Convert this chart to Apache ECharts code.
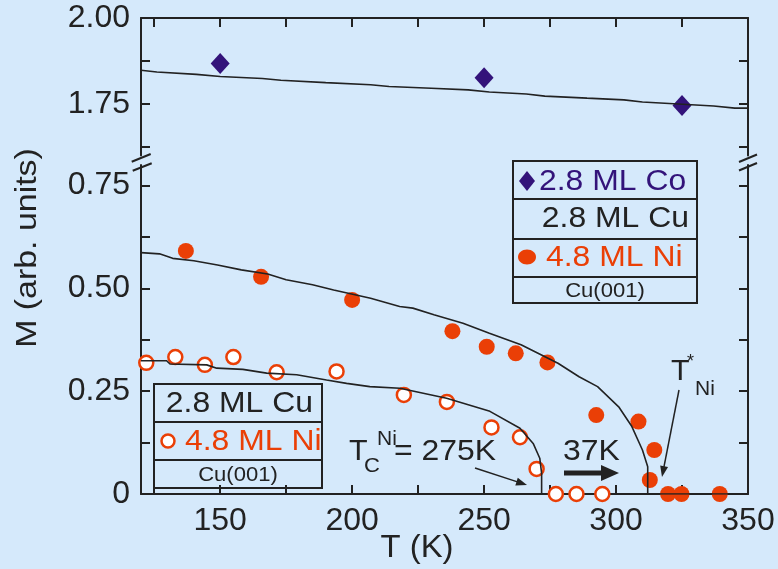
<!DOCTYPE html>
<html><head><meta charset="utf-8">
<script src="https://cdn.jsdelivr.net/npm/echarts@6/dist/echarts.min.js"></script>
<style>html,body{margin:0;padding:0;background:#d5e9fb}#c{width:778px;height:569px}</style>
</head><body><div id="c"></div><script>
// ---- data ----
const coLineT = [120,126,141,150,166,173,190,207,214,230,244,252,266,273,289,303,310,337,345,350];
const coLineM = [1.848,1.843,1.836,1.830,1.824,1.819,1.812,1.806,1.801,1.796,1.791,1.785,1.779,1.773,1.767,1.762,1.756,1.744,1.738,1.738];
const coPtsT = [150,250,325];
const coPtsM = [1.868,1.826,1.746];
const triLineT = [120,127,132,140,149,158,168,175,185,193,207,218,223,231,242,252,264,278,286,293,301,306,310,312,312,350];
const triLineM = [0.587,0.584,0.573,0.567,0.557,0.545,0.535,0.521,0.509,0.496,0.476,0.456,0.452,0.436,0.415,0.391,0.363,0.318,0.285,0.261,0.212,0.164,0.107,0.066,0,0];
const triPtsT = [137,165.5,200,238,251,262,274,292.5,308.5,314.5,312.8,319.7,324.8,339.3];
const triPtsM = [0.591,0.528,0.472,0.396,0.358,0.342,0.320,0.192,0.176,0.107,0.034,0,0,0];
const biLineT = [120,129.7,131,144.9,148.7,158.6,167.6,179,190.3,197.9,206.7,218.1,235.8,252.2,263.6,268.6,271.1,271.8,271.8];
const biLineM = [0.324,0.324,0.316,0.314,0.306,0.303,0.294,0.290,0.277,0.269,0.261,0.257,0.233,0.201,0.160,0.123,0.087,0.05,0];
const biPtsT = [122,133,144.2,155,171.4,194.1,219.6,235.9,252.8,263.6,269.9,277.2,285,294.8];
const biPtsM = [0.319,0.333,0.314,0.333,0.296,0.298,0.241,0.224,0.162,0.138,0.061,0,0,0];
const xTicks = [125,150,175,200,225,250,275,300,325,350];
const xLabels = [150,200,250,300,350];
const yTopTicks = [1.625,1.75,1.875,2.0];
const yTopLabels = [1.75,2.0];
const yBotTicks = [0.125,0.25,0.375,0.5,0.625,0.75];
const yBotLabels = [0,0.25,0.5,0.75];

// ---- style ----
const FONT = '"Liberation Sans", Arial, Helvetica, sans-serif';
const INK = '#222';
const ORANGE = '#ea3f06';
const PURPLE = '#33137a';
const BG = '#d5e9fb';

const zip = (a,b) => a.map((v,i)=>[v,b[i]]);
const axLine = {show:true, lineStyle:{color:INK, width:2}};
const tick = vals => ({show:true, inside:true, length:9, customValues: vals, lineStyle:{color:INK, width:2}});
const lab = (vals, fmt) => ({show:true, customValues: vals, fontSize:32, fontFamily:FONT, color:INK, margin:11, formatter: fmt});

function txt(x,y,s,size,color,align,sx){
  return {type:'text', x:x, y:y, scaleX: sx||1, z:20,
    style:{text:s, font: size+'px '+FONT, fill:color, align:align||'left', verticalAlign:'middle'}};
}
function ln(x1,y1,x2,y2,w,c){ return {type:'line', z:20, shape:{x1,y1,x2,y2}, style:{stroke:c||INK, lineWidth:w||2}}; }
function arrow(x1,y1,x2,y2,w,hl,hw){
  const dx=x2-x1, dy=y2-y1, L=Math.hypot(dx,dy), ux=dx/L, uy=dy/L;
  const bx=x2-ux*hl, by=y2-uy*hl, px=-uy*hw, py=ux*hw;
  return [ln(x1,y1,bx+ux*1,by+uy*1,w),
    {type:'polygon', z:20, shape:{points:[[x2,y2],[bx+px,by+py],[bx-px,by-py]]}, style:{fill:INK}}];
}

const graphics = [
  // axis break marks
  ln(131.7,161.7,150.7,154,2), ln(132.7,170.7,151.7,163.3,2),
  ln(739,162,757,154.5,2), ln(739,170.5,757,163,2),
  // y title
  {type:'text', x:28, y:248, rotation:Math.PI/2, scaleX:1.13, z:20,
   style:{text:'M (arb. units)', font:'30px '+FONT, fill:INK, align:'center', verticalAlign:'middle'}},
  txt(417,548,'T (K)',31,INK,'center',1.06),
  // upper legend box
  {type:'rect', z:15, shape:{x:513,y:161,width:184,height:142}, style:{fill:'none', stroke:INK, lineWidth:2}},
  ln(513,199,697,199,2), ln(513,239,697,239,2), ln(513,277,697,277,2),
  {type:'polygon', z:20, shape:{points:[[527,171],[535,181],[527,191],[519,181]]}, style:{fill:PURPLE}},
  txt(539,182,'2.8 ML Co',29,PURPLE,'left',1.1),
  txt(689,219,'2.8 ML Cu',29,INK,'right',1.1),
  {type:'ellipse', z:20, shape:{cx:527,cy:257,rx:9,ry:7.5}, style:{fill:ORANGE}},
  txt(546,258,'4.8 ML Ni',29,ORANGE,'left',1.1),
  txt(605,291,'Cu(001)',21,INK,'center',1.05),
  // lower legend box
  {type:'rect', z:15, shape:{x:154,y:384,width:168,height:104}, style:{fill:'none', stroke:INK, lineWidth:2}},
  ln(154,422,322,422,2), ln(154,460,322,460,2),
  txt(313,404,'2.8 ML Cu',29,INK,'right',1.1),
  {type:'circle', z:20, shape:{cx:168,cy:441,r:6.5}, style:{fill:'#fff', stroke:ORANGE, lineWidth:2.5}},
  txt(185,442,'4.8 ML Ni',29,ORANGE,'left',1.1),
  txt(238,475,'Cu(001)',21,INK,'center',1.05),
  // annotations
  txt(349,452,'T',29,INK,'left',1.05),
  txt(377,439,'Ni',20,INK,'left',1.05),
  txt(364,466,'C',21,INK,'left',1.05),
  txt(394,452,'= 275K',29,INK,'left',1.1),
  txt(563,452,'37K',29,INK,'left',1.1),
  txt(671,372,'T',29,INK,'left',1.05),
  txt(687,362,'*',18,INK,'left'),
  txt(695,389,'Ni',20,INK,'left',1.05),
  ...arrow(475,468,527,485,1.5,11,4),
  ...arrow(679,390,662,477,1.5,11,4),
  ...arrow(564,473,619,473,5,18,8)
];

const chart = echarts.init(document.getElementById('c'), null, {renderer:'canvas'});
chart.setOption({
  backgroundColor: BG,
  animation: false,
  textStyle:{fontFamily:FONT},
  grid: [
    {left:141, right:30, top:18, height:137.6},
    {left:141, right:30, top:165, height:329}
  ],
  xAxis: [
    {type:'value', gridIndex:0, position:'top', min:120, max:350, axisLine:axLine, axisTick:tick(xTicks), axisLabel:{show:false}, splitLine:{show:false}},
    {type:'value', gridIndex:1, position:'bottom', min:120, max:350, axisLine:axLine, axisTick:tick(xTicks),
     axisLabel:lab(xLabels, v=>String(v)), splitLine:{show:false}}
  ],
  yAxis: [
    {type:'value', gridIndex:0, position:'left', min:1.6, max:2.0, axisLine:axLine, axisTick:tick(yTopTicks),
     axisLabel:lab(yTopLabels, v=>v.toFixed(2)), splitLine:{show:false}},
    {type:'value', gridIndex:0, position:'right', min:1.6, max:2.0, axisLine:axLine, axisTick:tick(yTopTicks), axisLabel:{show:false}, splitLine:{show:false}},
    {type:'value', gridIndex:1, position:'left', min:0, max:0.8, axisLine:axLine, axisTick:tick(yBotTicks),
     axisLabel:lab(yBotLabels, v=>v===0?'0':v.toFixed(2)), splitLine:{show:false}},
    {type:'value', gridIndex:1, position:'right', min:0, max:0.8, axisLine:axLine, axisTick:tick(yBotTicks), axisLabel:{show:false}, splitLine:{show:false}}
  ],
  series: [
    {type:'scatter', xAxisIndex:0, yAxisIndex:0, data:zip(coPtsT,coPtsM), symbol:'diamond', symbolSize:[19,21], itemStyle:{color:PURPLE, opacity:1}, z:2},
    {type:'line', xAxisIndex:0, yAxisIndex:0, data:zip(coLineT,coLineM), showSymbol:false, lineStyle:{color:INK,width:1.6}, z:3},
    {type:'scatter', xAxisIndex:1, yAxisIndex:2, data:zip(triPtsT,triPtsM), symbol:'circle', symbolSize:16, itemStyle:{color:ORANGE, opacity:1}, z:2},
    {type:'scatter', xAxisIndex:1, yAxisIndex:2, data:zip(biPtsT,biPtsM), symbol:'circle', symbolSize:14, itemStyle:{color:'#fff', borderColor:ORANGE, borderWidth:2.5, opacity:1}, z:2},
    {type:'line', xAxisIndex:1, yAxisIndex:2, data:zip(triLineT,triLineM), showSymbol:false, lineStyle:{color:INK,width:1.6}, z:3},
    {type:'line', xAxisIndex:1, yAxisIndex:2, data:zip(biLineT,biLineM), showSymbol:false, lineStyle:{color:INK,width:1.6}, z:3}
  ],
  graphic: graphics
});
</script></body></html>
